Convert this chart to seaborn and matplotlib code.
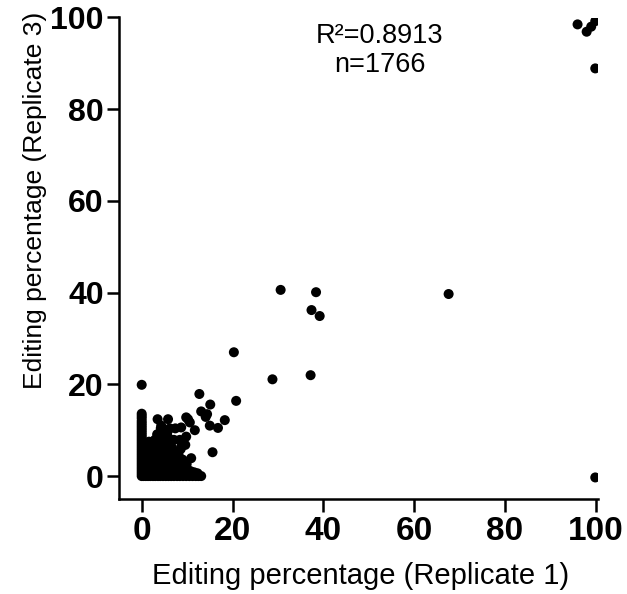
import matplotlib
matplotlib.use("Agg")
import matplotlib.pyplot as plt
import seaborn as sns
import pandas as pd

# Editing percentages per site: replicate 1 (x) vs replicate 3 (y)
rep1 = [
    # sites sitting on the x = 0 column
    0.0, 0.0, 0.0, 0.0, 0.0, 0.0, 0.0, 0.0, 0.0, 0.0, 0.0, 0.0, 0.0, 0.0,
    0.0, 0.0, 0.0, 0.0, 0.0, 0.0, 0.0, 0.0, 0.0, 0.0, 0.0, 0.0, 0.0, 0.0,
    # sites sitting on the y = 0 row
    0.4, 0.9, 1.4, 1.9, 2.5, 3.0, 3.6, 4.1, 4.7, 5.3, 5.9, 6.5, 7.1, 7.8,
    8.4, 9.1, 9.8, 10.5, 11.2, 11.9, 12.5, 13.1,
    # dense low-editing cluster
    0.6, 1.2, 0.9, 1.4, 0.7, 1.1, 1.6, 2.1, 2.4, 2.0, 2.6, 2.2, 2.7, 2.3,
    3.1, 3.5, 3.2, 3.7, 3.3, 3.8, 4.2, 4.6, 4.3, 4.8, 4.4, 4.9, 5.3, 5.7,
    5.4, 5.9, 5.5, 6.4, 6.8, 6.5, 7.0, 7.5, 7.9, 7.6, 8.5, 8.9, 9.5, 9.9,
    10.4, 0.5, 1.3, 0.8, 1.7, 2.9, 3.6, 4.0, 1.8, 2.8, 6.1, 7.2, 8.1, 9.2,
    10.9, 11.6, 12.3, 6.9, 5.0,
    # sparser sites above the cluster
    3.9, 4.8, 3.4, 5.6, 4.2, 6.3, 5.1, 6.0, 7.3, 6.6, 8.1, 7.1, 8.6, 9.0,
    9.6, 9.8, 9.1, 10.9, 8.4, 8.7,
    3.5, 5.8, 4.3, 6.2, 7.4, 8.7, 9.8, 10.2, 10.6, 11.7, 12.7, 13.1, 14.4,
    14.1, 15.1, 15.0, 16.8, 18.3, 15.6, 20.8, 20.3,
    # mid-range and highly edited sites
    28.8, 37.2, 30.6, 38.4, 37.4, 39.2, 67.6, 96.0, 98.0, 99.0, 99.9,
    99.9, 99.9, 0.0,
]
rep3 = [
    0.0, 0.5, 1.0, 1.5, 2.0, 2.5, 3.0, 3.5, 4.0, 4.5, 5.0, 5.5, 6.0, 6.5,
    7.0, 7.5, 8.0, 8.5, 9.0, 9.5, 10.0, 10.5, 11.0, 11.5, 12.0, 12.6, 13.1,
    13.6,
    0.0, 0.0, 0.0, 0.0, 0.0, 0.0, 0.0, 0.0, 0.0, 0.0, 0.0, 0.0, 0.0, 0.0,
    0.0, 0.0, 0.0, 0.0, 0.0, 0.0, 0.0, 0.0,
    0.7, 1.9, 3.1, 4.2, 5.3, 6.4, 7.5, 0.5, 1.6, 2.8, 3.9, 5.0, 6.1, 7.2,
    0.9, 2.1, 3.3, 4.4, 5.6, 6.6, 0.6, 1.7, 2.9, 3.8, 5.1, 6.0, 1.1, 2.3,
    3.4, 4.6, 5.5, 0.7, 1.8, 2.9, 4.0, 1.3, 2.4, 3.4, 0.9, 2.0, 1.4, 2.6,
    1.2, 2.4, 6.8, 5.9, 0.8, 7.9, 7.1, 1.5, 4.7, 3.0, 3.1, 4.9, 2.9, 1.6,
    1.0, 0.8, 0.6, 1.2, 2.2,
    7.8, 8.6, 9.1, 9.3, 10.4, 7.3, 6.9, 8.2, 5.2, 6.3, 4.7, 7.9, 5.9, 3.6,
    6.8, 8.6, 7.1, 3.9, 7.9, 6.4,
    12.4, 12.4, 11.0, 10.4, 10.4, 10.6, 12.8, 12.4, 11.7, 10.0, 17.9, 14.1,
    13.5, 12.9, 15.6, 11.0, 10.5, 12.2, 5.2, 16.4, 27.0,
    21.1, 22.0, 40.6, 40.1, 36.2, 34.9, 39.7, 98.5, 96.9, 98.0, 99.2,
    88.9, -0.3, 19.9,
]

r_squared = "0.8913"
n_sites = 1766
ticks = [0, 20, 40, 60, 80, 100]

df = pd.DataFrame({"rep1": rep1, "rep3": rep3})

sns.set_style("ticks")
plt.rcParams["font.family"] = ["Liberation Sans", "DejaVu Sans"]
for key in ("text.color", "axes.labelcolor", "xtick.color", "ytick.color",
            "axes.edgecolor"):
    plt.rcParams[key] = "black"

fig = plt.figure(figsize=(6.27, 5.94), dpi=100)
ax = fig.add_axes([119 / 627, 1 - 499 / 594, (598 - 119) / 627, (499 - 17.5) / 594])

sns.scatterplot(data=df, x="rep1", y="rep3", ax=ax, color="black",
                s=52, linewidth=0, edgecolor="none", alpha=1)

ax.set_xlim(-5, 100.5)
ax.set_ylim(-5, 100)
ax.set_xticks(ticks)
ax.set_yticks(ticks)
ax.set_xticklabels([str(t) for t in ticks], fontsize=24, fontweight="bold")
ax.set_yticklabels([str(t) for t in ticks], fontsize=23, fontweight="bold")

for side in ("top", "right"):
    ax.spines[side].set_visible(False)
for side in ("left", "bottom"):
    ax.spines[side].set_linewidth(1.8)
    ax.spines[side].set_color("black")
ax.tick_params(axis="both", length=9, width=1.8, color="black",
               labelcolor="black")
ax.tick_params(axis="x", pad=3)
ax.tick_params(axis="y", pad=2)

ax.set_xlabel("Editing percentage (Replicate 1)", fontsize=21)
ax.set_ylabel("Editing percentage (Replicate 3)", fontsize=19)
ax.xaxis.set_label_coords(0.505, -0.13)
ax.yaxis.set_label_coords(-0.15, 0.62)

ax.text(52.4, 96, f"R\u00b2={r_squared}", ha="center", va="center", fontsize=19.5)
ax.text(52.4, 89.6, f"n={n_sites}", ha="center", va="center", fontsize=19.5)

ax.grid(False)
fig.savefig("out.png", dpi=100)
